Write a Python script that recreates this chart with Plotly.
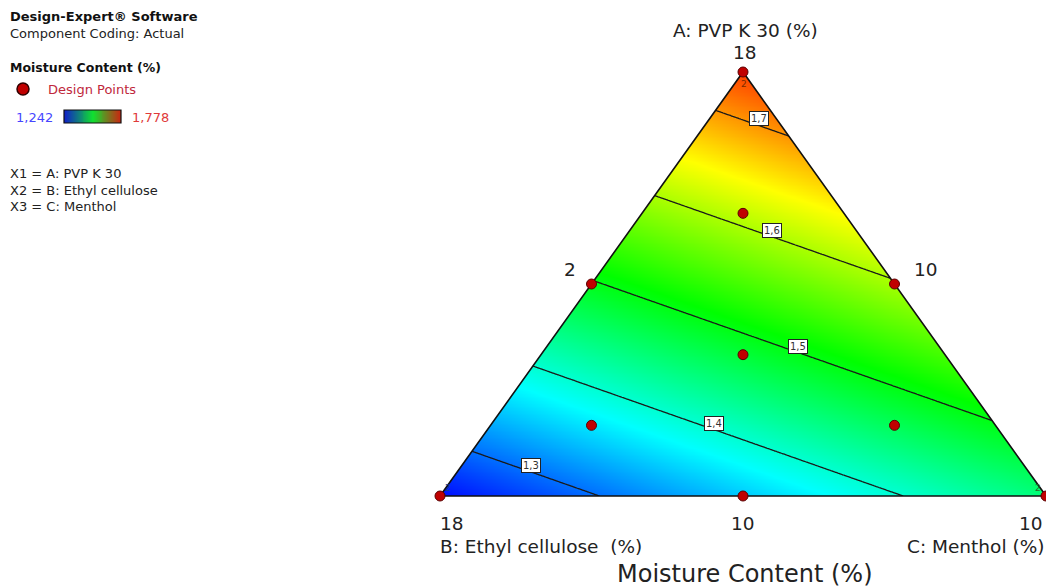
import numpy as np
import plotly.graph_objects as go

# ---------------- data ----------------
# fitted linear mixture model (pseudo-component vertex values)
coef_A = 1.745   # PVP K 30 vertex
coef_B = 1.2475  # Ethyl cellulose vertex
coef_C = 1.447   # Menthol vertex
z_min, z_max = 1.242, 1.778
contour_levels = [1.3, 1.4, 1.5, 1.6, 1.7]
contour_labels = ["1,3", "1,4", "1,5", "1,6", "1,7"]

# design points (pseudo-component fractions A, B, C)
pts_A = [1, 0, 0, 0.5, 0.5, 0, 1/3, 2/3, 1/6, 1/6]
pts_B = [0, 1, 0, 0.5, 0, 0.5, 1/3, 1/6, 2/3, 1/6]
pts_C = [0, 0, 1, 0, 0.5, 0.5, 1/3, 1/6, 1/6, 2/3]
replicate_labels = ["2", "2", "2", "", "", "", "", "", "", ""]

legend_min, legend_max = "1,242", "1,778"
vertex_ticks = {"top": "18", "left_mid": "2", "right_mid": "10",
                "bottom_left": "18", "bottom_mid": "10", "bottom_right": "10"}

W, H = 1046, 587
FONT = "DejaVu Sans"
# triangle placement in pixels
BX0, BX1, BY, TY = 440, 1046, 496, 72
sx = BX1 - BX0
sy = BY - TY


def to_xy(a, b, c):
    a = np.asarray(a, float); c = np.asarray(c, float)
    return c + 0.5 * a, a


# grid for the response surface
gx = np.linspace(0, 1, 301)
gy = np.linspace(0, 1, 301)
X, Y = np.meshgrid(gx, gy)
WA = Y
WC = X - 0.5 * Y
WB = 1 - WA - WC
Z = coef_A * WA + coef_B * WB + coef_C * WC

jet = [[0, "#0000ff"], [0.25, "#00ffff"], [0.5, "#00ff00"], [0.75, "#ffff00"], [1, "#ff0000"]]

fig = go.Figure()
fig.add_trace(go.Contour(
    x=gx, y=gy, z=Z, zmin=z_min, zmax=z_max, colorscale=jet, showscale=False,
    contours=dict(start=contour_levels[0], end=contour_levels[-1], size=0.1, coloring="heatmap"),
    line=dict(color="#1a1a1a", width=1.3), hoverinfo="skip"))

# white masks outside the triangle
pad = 0.03
fig.add_trace(go.Scatter(x=[0, 0.5, 0.5, -pad, -pad, 0], y=[0, 1, 1 + pad, 1 + pad, 0, 0],
                         fill="toself", fillcolor="white", line=dict(width=0), mode="lines",
                         hoverinfo="skip", showlegend=False))
fig.add_trace(go.Scatter(x=[1, 0.5, 0.5, 1 + pad, 1 + pad, 1], y=[0, 1, 1 + pad, 1 + pad, 0, 0],
                         fill="toself", fillcolor="white", line=dict(width=0), mode="lines",
                         hoverinfo="skip", showlegend=False))
# triangle border
fig.add_trace(go.Scatter(x=[0, 0.5, 1, 0], y=[0, 1, 0, 0], mode="lines",
                         line=dict(color="#111111", width=1.6), hoverinfo="skip", showlegend=False))

# design points
px_, py_ = to_xy(pts_A, pts_B, pts_C)
fig.add_trace(go.Scatter(x=px_, y=py_, mode="markers",
                         marker=dict(size=10, color="#c00000", line=dict(color="#5a0000", width=1)),
                         showlegend=False, hoverinfo="skip"))

annotations = []


def dx(p):
    return (p - BX0) / sx


def dy(p):
    return (BY - p) / sy


# replicate labels
rep_off = [(1, 12), (8, -8), (-8, -8)]
rep_col = ["#7a2a00", "#1a3a8a", "#2a6a2a"]
for i, lab in enumerate(replicate_labels):
    if lab:
        ox, oy = rep_off[i]
        annotations.append(dict(x=px_[i], y=py_[i], xref="x", yref="y", text=lab, showarrow=False,
                                xshift=ox, yshift=-oy,
                                font=dict(size=9, color=rep_col[i], family=FONT)))

# contour labels (positions along the lines)
label_px = [(531, 465), (714, 423), (798, 346), (772, 230), (759, 118)]
for (lx, ly), lab in zip(label_px, contour_labels):
    annotations.append(dict(x=dx(lx), y=dy(ly), xref="x", yref="y", text=lab, showarrow=False,
                            bgcolor="white", bordercolor="#222222", borderwidth=1, borderpad=1,
                            font=dict(size=10, color="#333333", family=FONT)))


def ptxt(x, y, s, size=12, color="#222222", bold=False, xanchor="left", yanchor="middle"):
    if bold:
        s = "<b>" + s + "</b>"
    annotations.append(dict(x=x / W, y=1 - y / H, xref="paper", yref="paper", text=s,
                            showarrow=False, xanchor=xanchor, yanchor=yanchor,
                            font=dict(size=size, color=color, family=FONT)))


S_SMALL, S_MED, S_BIG = 13, 18.5, 24
# left info panel
ptxt(8, 16, "Design-Expert® Software", S_SMALL, "#111111", bold=True)
ptxt(8, 33, "Component Coding: Actual", S_SMALL, "#222222")
ptxt(8, 68, "Moisture Content (%)", S_SMALL - 0.5, "#111111", bold=True)
ptxt(46, 89, "Design Points", S_SMALL, "#c0283c")
ptxt(14, 117, legend_min, S_SMALL, "#4646ff")
ptxt(130, 117, legend_max, S_SMALL, "#e03a3a")
ptxt(8, 173, "X1 = A: PVP K 30", S_SMALL, "#222222")
ptxt(8, 190, "X2 = B: Ethyl cellulose", S_SMALL, "#222222")
ptxt(8, 206, "X3 = C: Menthol", S_SMALL, "#222222")

# triangle axis texts
ptxt(745, 30, "A: PVP K 30 (%)", S_MED, "#222222", xanchor="center")
ptxt(745, 53, vertex_ticks["top"], S_MED, "#222222", xanchor="center")
ptxt(570, 269, vertex_ticks["left_mid"], S_MED, "#222222", xanchor="center")
ptxt(926, 269, vertex_ticks["right_mid"], S_MED, "#222222", xanchor="center")
ptxt(438, 523, vertex_ticks["bottom_left"], S_MED, "#222222")
ptxt(743, 523, vertex_ticks["bottom_mid"], S_MED, "#222222", xanchor="center")
ptxt(1045, 523, vertex_ticks["bottom_right"], S_MED, "#222222", xanchor="right")
ptxt(438, 546, "B: Ethyl cellulose \u00a0(%)", S_MED, "#222222")
ptxt(1046, 546, "C: Menthol (%)", S_MED, "#222222", xanchor="right")
ptxt(745, 590, "Moisture Content (%)", S_BIG, "#222222", xanchor="center", yanchor="bottom")

# legend marker
fig.add_trace(go.Scatter(x=[dx(23)], y=[dy(89)], mode="markers",
                         marker=dict(size=12, color="#c00000", line=dict(color="#300000", width=1.5)),
                         showlegend=False, hoverinfo="skip"))

# legend gradient bar
fig.add_trace(go.Heatmap(z=[list(np.linspace(0, 1, 60))], x=list(range(60)), y=[0],
                         colorscale=[[0, "#1020c8"], [0.5, "#10e030"], [1, "#d02010"]],
                         showscale=False, zsmooth="best", xaxis="x2", yaxis="y2", hoverinfo="skip"))

fig.update_layout(
    width=W, height=H, margin=dict(l=0, r=0, t=0, b=0),
    paper_bgcolor="white", plot_bgcolor="white",
    xaxis=dict(range=[-BX0 / sx, (W - BX0) / sx], visible=False, fixedrange=True),
    yaxis=dict(range=[(BY - H) / sy, BY / sy], visible=False, fixedrange=True),
    xaxis2=dict(domain=[64 / W, 121 / W], visible=False, anchor="y2", range=[-0.5, 59.5]),
    yaxis2=dict(domain=[1 - 123 / H, 1 - 110 / H], visible=False, anchor="x2", range=[-0.5, 0.5]),
    annotations=annotations,
    shapes=[dict(type="rect", xref="paper", yref="paper", x0=64 / W, x1=121 / W,
                 y0=1 - 123 / H, y1=1 - 110 / H, line=dict(color="#111111", width=1.2))],
    showlegend=False,
)

fig.write_html("out.html")
